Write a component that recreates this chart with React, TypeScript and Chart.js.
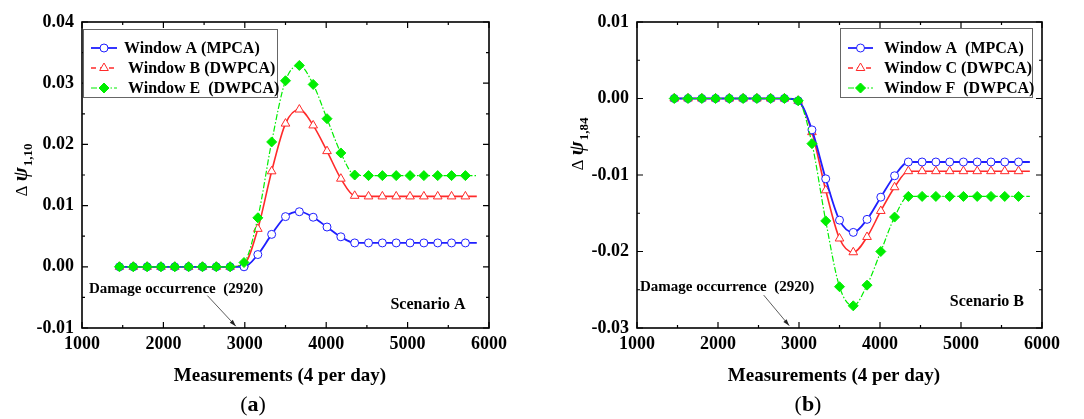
import React, { useEffect, useRef } from "react";
import { Chart, registerables } from "chart.js";

Chart.register(...registerables);

// ---------- data ----------
const measurements = [
  1460, 1630, 1800, 1970, 2140, 2310, 2480, 2650, 2820, 2990, 3160, 3330, 3500,
  3670, 3840, 4010, 4180, 4350, 4520, 4690, 4860, 5030, 5200, 5370, 5540, 5710,
];
const lineStartX = 1410;
const lineEndX = 5850;

const scenarioAWindowA = [
  0, 0, 0, 0, 0, 0, 0, 0, 0, 0, 0.002, 0.0053, 0.0082, 0.009, 0.0081, 0.0065,
  0.0049, 0.0039, 0.0039, 0.0039, 0.0039, 0.0039, 0.0039, 0.0039, 0.0039, 0.0039,
];
const scenarioAWindowB = [
  0, 0, 0, 0, 0, 0, 0, 0, 0, 0.0004, 0.0062, 0.0156, 0.0234, 0.0257, 0.0231,
  0.0189, 0.0144, 0.0116, 0.0115, 0.0115, 0.0115, 0.0115, 0.0115, 0.0115, 0.0115, 0.0115,
];
const scenarioAWindowE = [
  0, 0, 0, 0, 0, 0, 0, 0, 0, 0.0007, 0.008, 0.0204, 0.0304, 0.0329, 0.0298,
  0.0242, 0.0186, 0.015, 0.0149, 0.0149, 0.0149, 0.0149, 0.0149, 0.0149, 0.0149, 0.0149,
];

const scenarioBWindowA = [
  0, 0, 0, 0, 0, 0, 0, 0, 0, -0.0003, -0.0041, -0.0105, -0.0159, -0.0175, -0.0158,
  -0.0129, -0.0101, -0.0083, -0.0083, -0.0083, -0.0083, -0.0083, -0.0083, -0.0083, -0.0083, -0.0083,
];
const scenarioBWindowC = [
  0, 0, 0, 0, 0, 0, 0, 0, 0, -0.0003, -0.0044, -0.012, -0.0183, -0.0201, -0.0181,
  -0.0147, -0.0116, -0.0095, -0.0095, -0.0095, -0.0095, -0.0095, -0.0095, -0.0095, -0.0095, -0.0095,
];
const scenarioBWindowF = [
  0, 0, 0, 0, 0, 0, 0, 0, 0, -0.0003, -0.0059, -0.016, -0.0246, -0.0271, -0.0244,
  -0.02, -0.0155, -0.0128, -0.0128, -0.0128, -0.0128, -0.0128, -0.0128, -0.0128, -0.0128, -0.0128,
];

const xTicks = [1000, 2000, 3000, 4000, 5000, 6000];
const yTicksA = [-0.01, 0, 0.01, 0.02, 0.03, 0.04];
const yTicksB = [-0.03, -0.02, -0.01, 0, 0.01];

const labelsA = ["Window A (MPCA)", " Window B (DWPCA)", " Window E  (DWPCA)"];
const labelsB = ["Window A  (MPCA)", "Window C (DWPCA)", "Window F  (DWPCA)"];

const damageX = 2920;

// ---------- styles ----------
const BLUE = "#1f1fff";
const RED = "#ff2a2a";
const GREEN = "#00ee00";
const SERIF = "'Liberation Serif', 'Times New Roman', serif";

type Series = {
  label: string;
  values: number[];
  color: string;
  style: "circle" | "triangle" | "rectRot";
  radius: number;
  dash: number[];
  legendDash: number[];
  width: number;
  filled: boolean;
  order: number;
};

type PanelCfg = {
  left: number;
  width: number;
  yAxisWidth: number;
  padRight: number;
  yMin: number;
  yMax: number;
  series: Series[];
  legendBox: { x: number; y: number; w: number; h: number };
  legendRows: number[];
  sampleX: [number, number];
  textX: number[];
  yTitle: { x: number; y: number; sub: string };
  xTitleX: number;
  caption: { x: number; letter: string };
  damageText: { x: number; y: number };
  arrow: { x1: number; y1: number; x2: number; y2: number };
  scenario: { x: number; y: number; text: string };
};

function buildData(values: number[]) {
  const pts = [{ x: lineStartX, y: values[0] }];
  measurements.forEach((m, i) => pts.push({ x: m, y: values[i] }));
  pts.push({ x: lineEndX, y: values[values.length - 1] });
  return pts;
}

function drawMarker(ctx: CanvasRenderingContext2D, s: Series, x: number, y: number) {
  ctx.save();
  ctx.beginPath();
  const r = s.radius;
  if (s.style === "circle") {
    ctx.arc(x, y, r, 0, Math.PI * 2);
  } else if (s.style === "triangle") {
    const h = r * 1.5;
    const half = h / Math.sqrt(3);
    ctx.moveTo(x, y - h * 2 / 3);
    ctx.lineTo(x + half, y + h / 3);
    ctx.lineTo(x - half, y + h / 3);
    ctx.closePath();
  } else {
    ctx.moveTo(x, y - r);
    ctx.lineTo(x + r, y);
    ctx.lineTo(x, y + r);
    ctx.lineTo(x - r, y);
    ctx.closePath();
  }
  ctx.fillStyle = s.filled ? s.color : "#ffffff";
  ctx.fill();
  ctx.lineWidth = 1;
  ctx.strokeStyle = s.color;
  ctx.stroke();
  ctx.restore();
}

function makeDecor(cfg: PanelCfg) {
  return {
    id: "decor",
    afterDraw(chart: any) {
      const ctx: CanvasRenderingContext2D = chart.ctx;
      const { left, right, top, bottom } = chart.chartArea;
      const xs = chart.scales.x;
      const ys = chart.scales.y;
      ctx.save();

      // frame
      ctx.strokeStyle = "#000";
      ctx.lineWidth = 1.6;
      ctx.strokeRect(left, top, right - left, bottom - top);

      // inner ticks
      ctx.lineWidth = 1.2;
      ctx.beginPath();
      for (let v = 1000; v <= 6000; v += 500) {
        const px = xs.getPixelForValue(v);
        const len = v % 1000 === 0 ? 6 : 3;
        ctx.moveTo(px, bottom);
        ctx.lineTo(px, bottom - len);
        ctx.moveTo(px, top);
        ctx.lineTo(px, top + len);
      }
      const steps = Math.round((cfg.yMax - cfg.yMin) / 0.005);
      for (let k = 0; k <= steps; k++) {
        const v = cfg.yMin + k * 0.005;
        const py = ys.getPixelForValue(v);
        const len = k % 2 === 0 ? 6 : 3;
        ctx.moveTo(left, py);
        ctx.lineTo(left + len, py);
        ctx.moveTo(right, py);
        ctx.lineTo(right - len, py);
      }
      ctx.stroke();

      // legend
      const lb = cfg.legendBox;
      ctx.fillStyle = "#fff";
      ctx.fillRect(lb.x, lb.y, lb.w, lb.h);
      ctx.strokeStyle = "#666";
      ctx.lineWidth = 1;
      ctx.strokeRect(lb.x + 0.5, lb.y + 0.5, lb.w, lb.h);
      cfg.series.forEach((s, i) => {
        const ry = cfg.legendRows[i];
        ctx.save();
        ctx.strokeStyle = s.color;
        ctx.lineWidth = s.width;
        ctx.setLineDash(s.legendDash);
        ctx.beginPath();
        ctx.moveTo(cfg.sampleX[0], ry);
        ctx.lineTo(cfg.sampleX[1], ry);
        ctx.stroke();
        ctx.restore();
        drawMarker(ctx, s, (cfg.sampleX[0] + cfg.sampleX[1]) / 2, ry);
        ctx.fillStyle = "#000";
        ctx.font = `bold 16px ${SERIF}`;
        ctx.textAlign = "left";
        ctx.textBaseline = "middle";
        ctx.fillText(s.label, cfg.textX[i], ry + 1);
      });

      // annotations
      ctx.fillStyle = "#000";
      ctx.font = `bold 15px ${SERIF}`;
      ctx.textAlign = "left";
      ctx.textBaseline = "middle";
      ctx.fillText(
        `Damage occurrence  (${damageX})`,
        xs.getPixelForValue(cfg.damageText.x),
        ys.getPixelForValue(cfg.damageText.y)
      );
      ctx.font = `bold 16px ${SERIF}`;
      ctx.textAlign = "center";
      ctx.fillText(
        cfg.scenario.text,
        xs.getPixelForValue(cfg.scenario.x),
        ys.getPixelForValue(cfg.scenario.y)
      );
      const ax1 = xs.getPixelForValue(cfg.arrow.x1);
      const ay1 = ys.getPixelForValue(cfg.arrow.y1);
      const ax2 = xs.getPixelForValue(cfg.arrow.x2);
      const ay2 = ys.getPixelForValue(cfg.arrow.y2);
      ctx.strokeStyle = "#333";
      ctx.lineWidth = 0.8;
      ctx.beginPath();
      ctx.moveTo(ax1, ay1);
      ctx.lineTo(ax2, ay2);
      ctx.stroke();
      const ang = Math.atan2(ay2 - ay1, ax2 - ax1);
      ctx.fillStyle = "#222";
      ctx.beginPath();
      ctx.moveTo(ax2, ay2);
      ctx.lineTo(ax2 - 7 * Math.cos(ang - 0.3), ay2 - 7 * Math.sin(ang - 0.3));
      ctx.lineTo(ax2 - 7 * Math.cos(ang + 0.3), ay2 - 7 * Math.sin(ang + 0.3));
      ctx.closePath();
      ctx.fill();

      // y title (rotated)
      ctx.save();
      ctx.translate(cfg.yTitle.x, cfg.yTitle.y);
      ctx.rotate(-Math.PI / 2);
      ctx.fillStyle = "#000";
      ctx.textBaseline = "alphabetic";
      ctx.textAlign = "left";
      const fDelta = `17px ${SERIF}`;
      const fPsi = `italic bold 21px ${SERIF}`;
      const fSub = `bold 13px ${SERIF}`;
      ctx.font = fDelta;
      const wD = ctx.measureText("Δ ").width;
      ctx.font = fPsi;
      const wP = ctx.measureText("ψ").width;
      ctx.font = fSub;
      const wS = ctx.measureText(cfg.yTitle.sub).width;
      let tx = -(wD + wP + wS + 1) / 2;
      const base = 6;
      ctx.font = fDelta;
      ctx.fillText("Δ ", tx, base);
      tx += wD;
      ctx.font = fPsi;
      ctx.fillText("ψ", tx, base);
      tx += wP + 1;
      ctx.font = fSub;
      ctx.fillText(cfg.yTitle.sub, tx, base + 5);
      ctx.restore();

      // x title
      ctx.fillStyle = "#000";
      ctx.font = `bold 19px ${SERIF}`;
      ctx.textAlign = "center";
      ctx.textBaseline = "middle";
      ctx.fillText("Measurements (4 per day)", cfg.xTitleX, 376);

      // caption
      ctx.font = `22px ${SERIF}`;
      const wOpen = ctx.measureText("(").width;
      ctx.font = `bold 22px ${SERIF}`;
      const wL = ctx.measureText(cfg.caption.letter).width;
      ctx.font = `22px ${SERIF}`;
      const wClose = ctx.measureText(")").width;
      let cx = cfg.caption.x - (wOpen + wL + wClose) / 2;
      ctx.textAlign = "left";
      ctx.fillText("(", cx, 405);
      cx += wOpen;
      ctx.font = `bold 22px ${SERIF}`;
      ctx.fillText(cfg.caption.letter, cx, 405);
      cx += wL;
      ctx.font = `22px ${SERIF}`;
      ctx.fillText(")", cx, 405);

      ctx.restore();
    },
  };
}

function Panel({ cfg, yTicks }: { cfg: PanelCfg; yTicks: number[] }) {
  const ref = useRef<HTMLCanvasElement | null>(null);
  useEffect(() => {
    if (!ref.current) return;
    const n = measurements.length + 2;
    const chart = new Chart(ref.current, {
      type: "line",
      data: {
        datasets: cfg.series.map((s) => ({
          label: s.label,
          data: buildData(s.values),
          borderColor: s.color,
          backgroundColor: s.color,
          borderWidth: s.width,
          borderDash: s.dash,
          pointStyle: s.style,
          pointRadius: (c: any) => (c.dataIndex === 0 || c.dataIndex === n - 1 ? 0 : s.radius),
          pointBackgroundColor: s.filled ? s.color : "#ffffff",
          pointBorderColor: s.color,
          pointBorderWidth: 1,
          cubicInterpolationMode: "monotone",
          fill: false,
          order: s.order,
        })),
      },
      options: {
        animation: false,
        responsive: false,
        events: [],
        layout: { padding: { left: 0, right: cfg.padRight, top: 22, bottom: 0 } },
        plugins: { legend: { display: false }, tooltip: { enabled: false } },
        scales: {
          x: {
            type: "linear",
            min: 1000,
            max: 6000,
            afterFit: (s: any) => {
              s.height = 91;
            },
            afterBuildTicks: (s: any) => {
              s.ticks = xTicks.map((v) => ({ value: v }));
            },
            grid: { display: false, drawTicks: false },
            border: { display: false },
            ticks: {
              padding: 6,
              color: "#000",
              font: { family: SERIF, size: 18, weight: "bold" },
              callback: (v: any) => String(v),
              maxRotation: 0,
            },
          },
          y: {
            type: "linear",
            min: cfg.yMin,
            max: cfg.yMax,
            afterFit: (s: any) => {
              s.width = cfg.yAxisWidth;
            },
            afterBuildTicks: (s: any) => {
              s.ticks = yTicks.map((v) => ({ value: v }));
            },
            grid: { display: false, drawTicks: false },
            border: { display: false },
            ticks: {
              padding: 8,
              color: "#000",
              font: { family: SERIF, size: 18, weight: "bold" },
              callback: (v: any) => Number(v).toFixed(2),
            },
          },
        },
      },
      plugins: [makeDecor(cfg)],
    } as any);
    return () => chart.destroy();
  }, [cfg, yTicks]);
  return (
    <canvas
      ref={ref}
      width={cfg.width}
      height={419}
      style={{ position: "absolute", left: cfg.left, top: 0, width: cfg.width, height: 419 }}
    />
  );
}

function mkSeries(
  labels: string[],
  a: number[],
  b: number[],
  c: number[]
): Series[] {
  return [
    { label: labels[0], values: a, color: BLUE, style: "circle", radius: 4, dash: [], legendDash: [], width: 1.8, filled: false, order: 2 },
    { label: labels[1], values: b, color: RED, style: "triangle", radius: 5, dash: [], legendDash: [5, 4], width: 1.6, filled: false, order: 3 },
    { label: labels[2], values: c, color: GREEN, style: "rectRot", radius: 5, dash: [6, 2, 1.5, 2], legendDash: [6, 2, 1.5, 2], width: 1.2, filled: true, order: 1 },
  ];
}

const cfgA: PanelCfg = {
  left: 0,
  width: 540,
  yAxisWidth: 82,
  padRight: 51,
  yMin: -0.01,
  yMax: 0.04,
  series: mkSeries(labelsA, scenarioAWindowA, scenarioAWindowB, scenarioAWindowE),
  legendBox: { x: 83, y: 29, w: 194, h: 68 },
  legendRows: [48, 68, 88],
  sampleX: [91, 117],
  textX: [124, 124, 124],
  yTitle: { x: 21, y: 170, sub: "1,10" },
  xTitleX: 280,
  caption: { x: 253, letter: "a" },
  damageText: { x: 1086, y: -0.0036 },
  arrow: { x1: 2540, y1: -0.0047, x2: 2890, y2: -0.0097 },
  scenario: { x: 5250, y: -0.0062, text: "Scenario A" },
};

const cfgB: PanelCfg = {
  left: 540,
  width: 544,
  yAxisWidth: 97,
  padRight: 42,
  yMin: -0.03,
  yMax: 0.01,
  series: mkSeries(labelsB, scenarioBWindowA, scenarioBWindowC, scenarioBWindowF),
  legendBox: { x: 300, y: 28, w: 192, h: 69 },
  legendRows: [48, 68, 88],
  sampleX: [308, 333],
  textX: [344, 344, 344],
  yTitle: { x: 37, y: 144, sub: "1,84" },
  xTitleX: 294,
  caption: { x: 268, letter: "b" },
  damageText: { x: 1037, y: -0.0247 },
  arrow: { x1: 2564, y1: -0.0257, x2: 2880, y2: -0.0297 },
  scenario: { x: 5320, y: -0.0266, text: "Scenario B" },
};

export default function App() {
  return (
    <div
      style={{
        position: "fixed",
        left: 0,
        top: 0,
        width: 1084,
        height: 419,
        background: "#fff",
        overflow: "hidden",
      }}
    >
      <Panel cfg={cfgA} yTicks={yTicksA} />
      <Panel cfg={cfgB} yTicks={yTicksB} />
    </div>
  );
}
